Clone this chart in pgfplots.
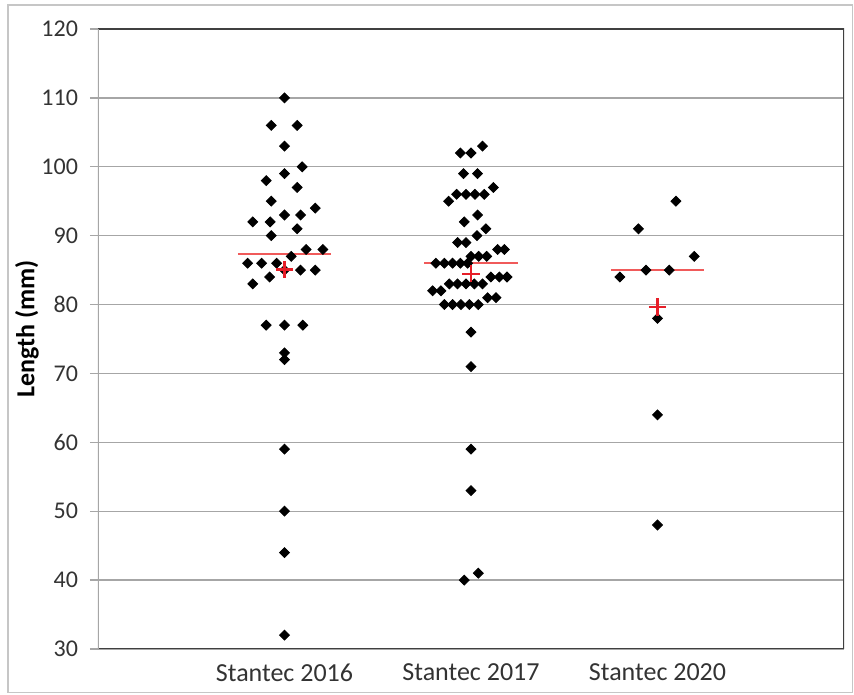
\documentclass[border=0pt]{standalone}
\usepackage{fontspec}
\setmainfont{Carlito}
\usepackage{pgfplots}
\pgfplotsset{compat=1.18}
\definecolor{gridgray}{RGB}{166,166,166}
\definecolor{framegray}{RGB}{64,64,64}
\definecolor{medred}{RGB}{240,90,90}
\definecolor{meanred}{RGB}{230,30,40}
\begin{document}
\begin{tikzpicture}
\useasboundingbox (-49pt,-22.5pt) rectangle (378pt,324.5pt);
\draw[gray!45, line width=0.8pt] (-45pt,-21.8pt) rectangle (377.2pt,322pt);
\begin{axis}[at={(0,0)}, anchor=south west, scale only axis,
  width=373pt, height=310pt,
  xmin=0, xmax=4, ymin=30, ymax=120,
  ytick={30,40,...,120}, xtick={1,2,3},
  xticklabels={Stantec 2016, Stantec 2017, Stantec 2020},
  ymajorgrids, grid style={gridgray, line width=0.65pt},
  axis line style={draw=none},
  ytick pos=left, tick align=outside, major tick length=4pt,
  y tick style={gridgray, line width=0.65pt},
  x tick style={draw=none},
  xticklabel style={font=\fontsize{13}{15}\selectfont, text=black!80},
  yticklabel style={font=\fontsize{12}{14}\selectfont, text=black!80, xshift=-2.5pt},
  /pgf/number format/assume math mode=true,
  ylabel={Length (mm)},
  ylabel style={font=\bfseries\fontsize{13}{15}\selectfont, at={([xshift=-35.5pt,yshift=5pt]axis description cs:0,0.5)}, anchor=center},
  unbounded coords=jump,
  ]
% medians
\addplot[draw=medred, line width=0.9pt, forget plot] coordinates {(0.75,87.35)(1.25,87.35) (1.5,nan) (1.75,86)(2.25,86) (2.5,nan) (2.75,85)(3.25,85)};
% Stantec 2016
\addplot[only marks, mark=square*, mark size=1.75pt, mark options={rotate=45}, black] table {
x y
1 110
0.929 106
1.068 106
1 103
1.095 100
1 99
0.902 98
1.068 97
0.929 95
1.165 94
1 93
1.086 93
0.830 92
0.923 92
1.068 91
0.929 90
1.116 88
1.206 88
1.036 87
0.802 86
0.877 86
0.958 86
1 85
1.086 85
1.165 85
0.920 84
0.830 83
0.902 77
1 77
1.098 77
1 73
1 72
1 59
1 50
1 44
1 32
};
% Stantec 2017
\addplot[only marks, mark=square*, mark size=1.75pt, mark options={rotate=45}, black] table {
x y
2.062 103
1.943 102
2 102
1.960 99
2.035 99
2.120 97
1.923 96
1.973 96
2.021 96
2.071 96
1.880 95
2.035 93
1.964 92
2.080 91
2.032 90
1.928 89
1.973 89
2.143 88
2.179 88
2 87
2.041 87
2.084 87
1.812 86
1.857 86
1.901 86
1.943 86
1.982 86
2.107 84
2.152 84
2.193 84
1.884 83
1.928 83
1.973 83
2.018 83
2.062 83
1.794 82
1.839 82
2.089 81
2.134 81
1.857 80
1.901 80
1.946 80
1.991 80
2.039 80
2 76
2 71
2 59
2 53
2.039 41
1.964 40
};
% Stantec 2020
\addplot[only marks, mark=square*, mark size=1.75pt, mark options={rotate=45}, black] table {
x y
3.099 95
2.898 91
3.197 87
2.938 85
3.063 85
2.798 84
3 78
3 64
3 48
};
% means
\addplot[only marks, mark=+, mark size=4.3pt, meanred, mark options={line width=1.2pt}] coordinates {(1,85.1)(2,84.45)(3,79.65)};
% frame
\draw[framegray, line width=1pt] (rel axis cs:0,0) -- (rel axis cs:1,0) -- (rel axis cs:1,1) -- (rel axis cs:0,1);
\draw[gridgray, line width=0.65pt] (rel axis cs:0,0) -- (rel axis cs:0,1);
\end{axis}
\end{tikzpicture}
\end{document}
